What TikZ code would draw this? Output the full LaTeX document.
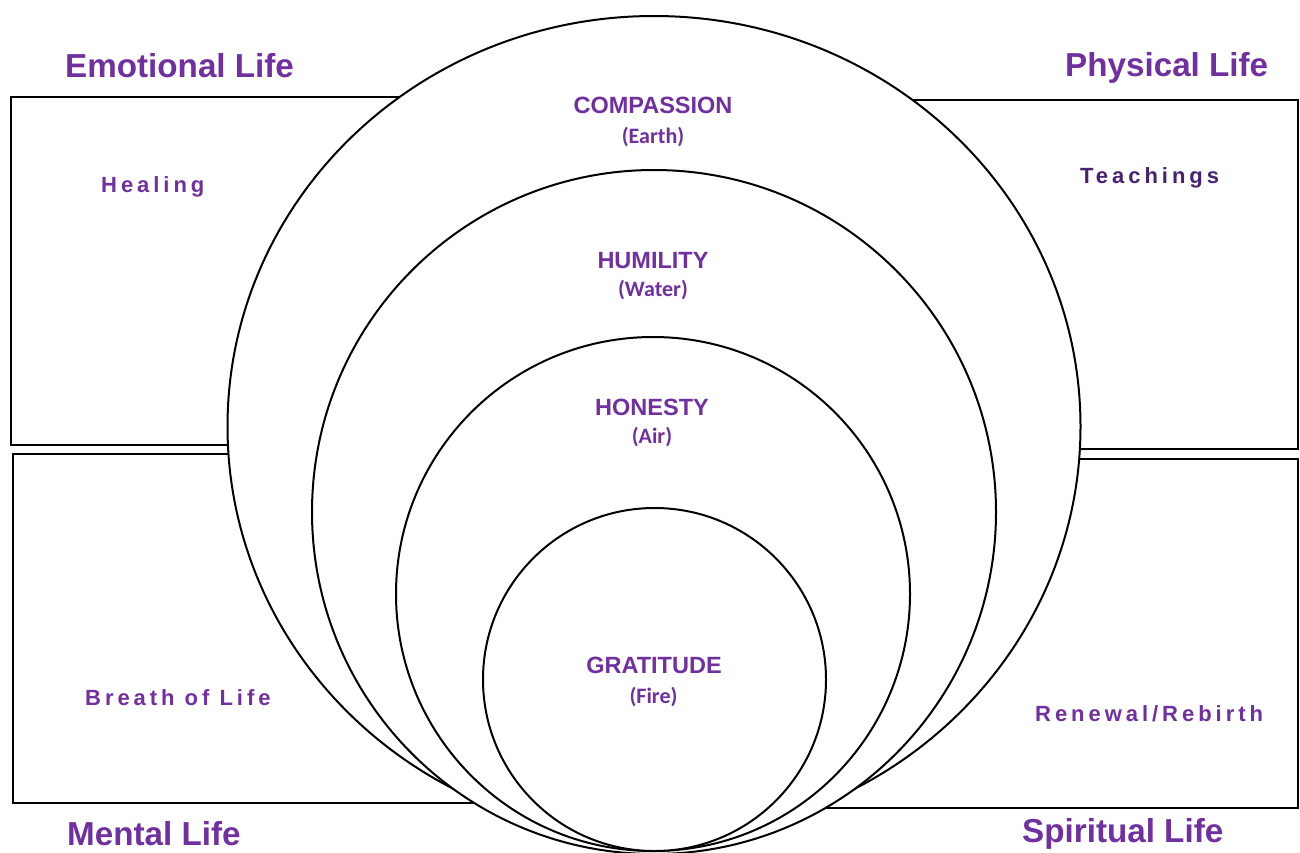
\documentclass[tikz,border=0pt]{standalone}
\usepackage{fontspec}
\setmainfont{Liberation Sans}
\newfontfamily\parfont{Carlito}
\newfontfamily\spacedfont{Liberation Sans}[LetterSpace=18]
\definecolor{lifepurple}{RGB}{112,48,160}
\definecolor{darkpurple}{RGB}{72,34,112}
\begin{document}
\begin{tikzpicture}[x=1pt,y=-1pt,
  head/.style={text=lifepurple, font=\fontsize{33.2}{40}\selectfont\bfseries, inner sep=0pt, anchor=base west},
  sublabel/.style={text=lifepurple, font=\spacedfont\bfseries\fontsize{22}{26}\selectfont, inner sep=0pt, anchor=base west},
  virtue/.style={text=lifepurple, font=\fontsize{23.5}{28}\selectfont\bfseries, inner sep=0pt, anchor=base},
  element/.style={text=lifepurple, font=\parfont\bfseries\fontsize{22}{26}\selectfont, inner sep=0pt, anchor=base},
  box/.style={draw=black, line width=2pt},
  ring/.style={draw=black, fill=white, line width=2pt}]
\useasboundingbox (0,0) rectangle (1300,852);
\fill[white] (0,0) rectangle (1300,852);
% quadrant boxes
\draw[box] (11,96.5) rectangle (654,445);
\draw[box] (654,100) rectangle (1297.5,449);
\draw[box] (13,454) rectangle (654,803);
\draw[box] (654,459) rectangle (1297.5,808);
% nested rings
\draw[ring] (654,426.5) ellipse [x radius=426.5pt, y radius=410.5pt];
\draw[ring] (654,512) circle [radius=342pt];
\draw[ring] (653,594) circle [radius=257pt];
\draw[ring] (654.5,679.5) circle [radius=171.5pt];
% headings
\node[head] (emo) at (65,77) {Emotional Life};
\node[head] (phy) at (1065,76) {Physical Life};
\node[head] (men) at (67,845) {Mental Life};
\node[head] (spi) at (1022,842) {Spiritual Life};
% quadrant labels
\node[sublabel] (heal) at (101,192) {Healing};
\node[sublabel, text=darkpurple] (teach) at (1080,183) {Teachings};
\node[sublabel] (breath) at (85,705) {Breath of Life};
\node[sublabel] (renew) at (1035,721) {Renewal/Rebirth};
% virtues
\node[virtue] (comp) at (653,113) {COMPASSION};
\node[element] (earth) at (653,143) {(Earth)};
\node[virtue] (humi) at (653,268) {HUMILITY};
\node[element] (water) at (653,296) {(Water)};
\node[virtue] (hone) at (652,415) {HONESTY};
\node[element] (air) at (652,443) {(Air)};
\node[virtue] (grat) at (654,673) {GRATITUDE};
\node[element] (fire) at (653.5,703) {(Fire)};
\end{tikzpicture}
\end{document}
